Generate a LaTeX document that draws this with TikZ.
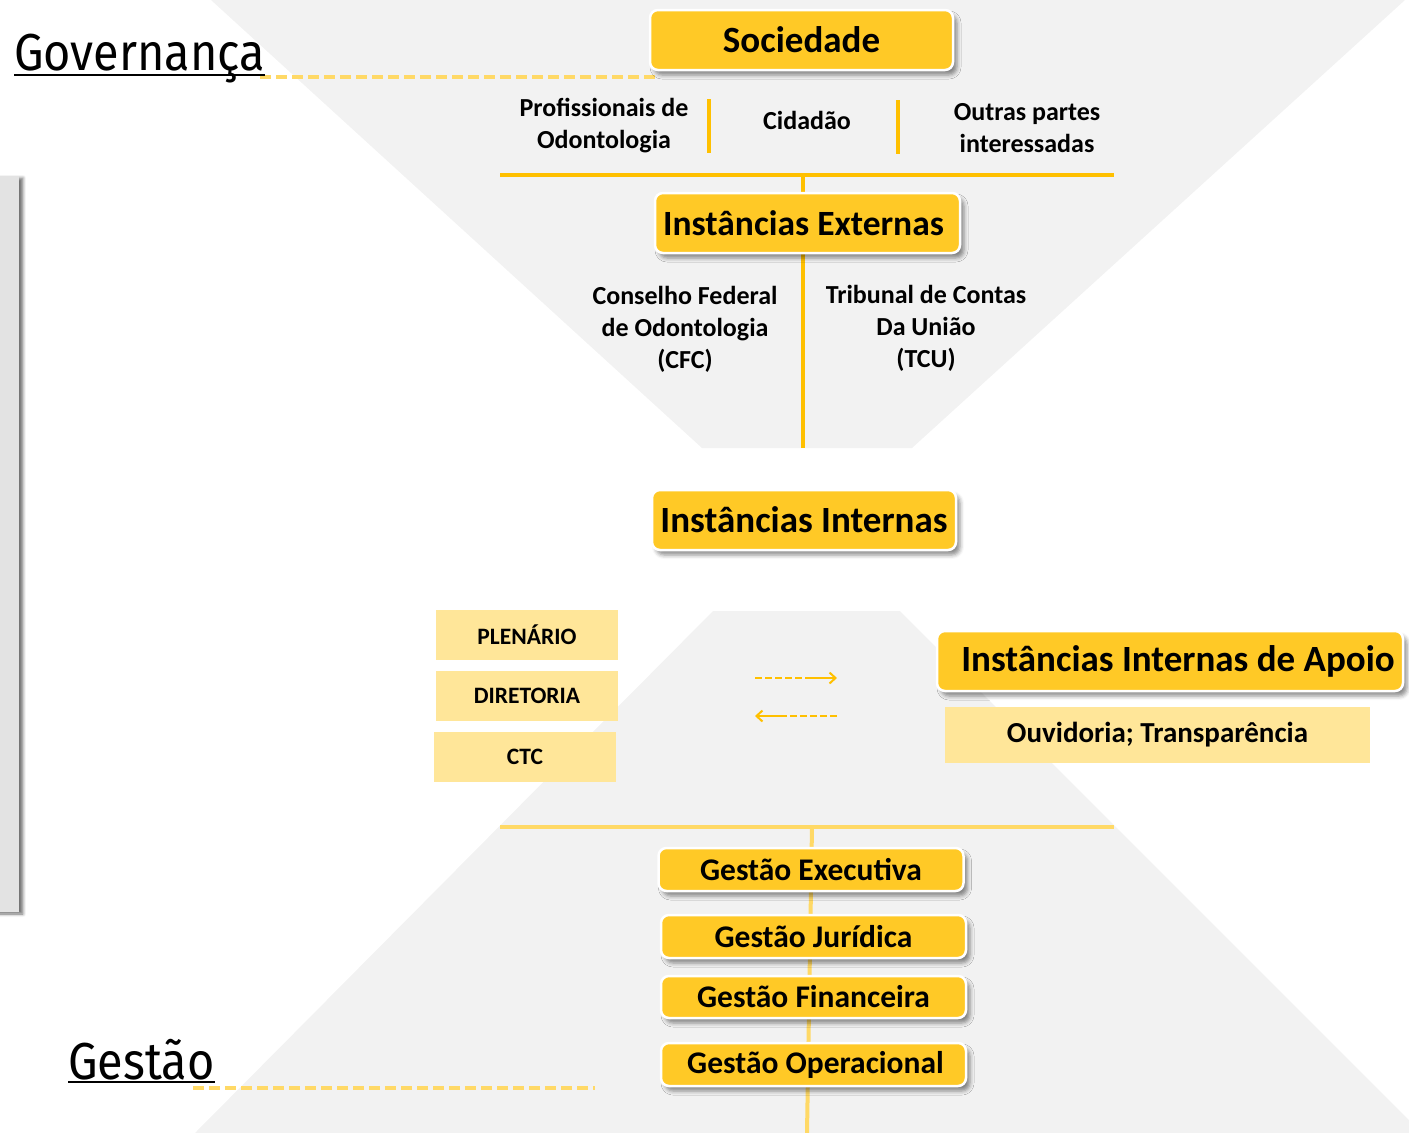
\documentclass[tikz,border=0pt]{standalone}
\usepackage{fontspec}
\setmainfont{Carlito}
\newfontfamily\dinfont[FakeStretch=0.9]{Fira Sans}
\usetikzlibrary{shadows.blur,arrows.meta}
\definecolor{bggray}{HTML}{F2F2F2}
\definecolor{boxgold}{HTML}{FFC926}
\definecolor{linegold}{HTML}{FFC000}
\definecolor{lightgold}{HTML}{FFD966}
\definecolor{paleyellow}{HTML}{FFE699}
\definecolor{bargray}{HTML}{E3E3E3}
\pgfdeclarelayer{bg}
\pgfdeclarelayer{lines}
\pgfsetlayers{bg,lines,main}
\begin{document}
\begin{tikzpicture}[x=1pt,y=-1pt,
  goldbox/.style={draw=white, line width=2.5pt, fill=boxgold, rounded corners=8pt,
    font=\bfseries\fontsize{37}{44}\selectfont, inner sep=0pt, minimum height=60pt,
    blur shadow={shadow xshift=4pt, shadow yshift=-5pt, shadow blur radius=4pt, shadow opacity=45}},
  gestbox/.style={goldbox, font=\bfseries\fontsize{31.5}{37}\selectfont, minimum height=43pt, minimum width=305pt},
  palebox/.style={fill=paleyellow, inner sep=0pt, minimum width=182pt, minimum height=50pt,
    font=\bfseries\fontsize{23.5}{28}\selectfont},
  plaintext/.style={align=center, inner sep=0pt, font=\bfseries\fontsize{26}{32}\selectfont},
  titletext/.style={inner sep=0pt, anchor=base west, font=\dinfont\fontsize{52}{60}\selectfont},
  goldline/.style={draw=linegold, line width=4pt},
  paleline/.style={draw=lightgold, line width=4pt},
  dashline/.style={draw=lightgold, line width=4pt, dash pattern=on 11pt off 5pt},
  arrowline/.style={draw=linegold, line width=2.5pt},
  arrowtip/.style={-{Straight Barb[length=6pt,width=11pt,line width=2pt]}}
]
\useasboundingbox (0,0) rectangle (1409,1133);

% ---------- text nodes and boxes ----------
\node[titletext] (gov) at (14,70) {Governança};
\node[titletext] (gest) at (68,1079) {Gestão};

\node[goldbox, minimum width=303pt] (soc) at (801.5,40) {Sociedade};
\node[plaintext] (prof) at (604,126) {Profissionais de\\Odontologia};
\node[plaintext] (cid) at (807,120) {Cidadão};
\node[plaintext] (outras) at (1027,128) {Outras partes\\interessadas};

\node[goldbox, minimum width=305pt, font=\bfseries\fontsize{35.5}{44}\selectfont] (ext) at (807.5,223) {Instâncias Externas\hspace*{8pt}};
\node[plaintext] (cfc) at (685,329) {Conselho Federal\\de Odontologia\\(CFC)};
\node[plaintext] (tcu) at (926,328) {Tribunal de Contas\\Da União\\(TCU)};

\node[goldbox, minimum width=304pt] (int) at (804,520) {Instâncias Internas};

\node[palebox] (plen) at (527,635) {PLENÁRIO};
\node[palebox] (dir) at (527,696) {DIRETORIA};
\node[palebox] (ctc) at (525,757) {CTC};

\node[goldbox, minimum width=466pt] (apoio) at (1170,661) {\hspace*{16pt}Instâncias Internas de Apoio};
\node[palebox, minimum width=425pt, minimum height=56pt, font=\bfseries\fontsize{29}{34}\selectfont] (ouv) at (1157.5,735) {Ouvidoria; Transparência};

\node[gestbox] (gexec) at (811,869.5) {Gestão Executiva};
\node[gestbox] (gjur) at (813.5,936.5) {Gestão Jurídica};
\node[gestbox, minimum height=42pt] (gfin) at (813.5,997) {Gestão Financeira};
\node[gestbox] (gop) at (813.5,1064.5) {\hspace*{4pt}Gestão Operacional};

% ---------- coordinates ----------
\coordinate (govdashL) at (260,77);
\coordinate (govdashR) at (655,77);
\coordinate (gestdashL) at (193,1088);
\coordinate (gestdashR) at (595,1088);
\coordinate (hlL) at (500,175);
\coordinate (hlR) at (1114,175);
\coordinate (hlC) at (803,175);
\coordinate (extbot) at (803,448);
\coordinate (s1t) at (709,99);
\coordinate (s1b) at (709,153);
\coordinate (s2t) at (898,100);
\coordinate (s2b) at (898,154);
\coordinate (mlL) at (500,827);
\coordinate (mlR) at (1114,827);
\coordinate (mlC) at (812,827);
\coordinate (gbot) at (807,1133);
\coordinate (a1s) at (755,678);
\coordinate (a1m) at (808,678);
\coordinate (a1e) at (837,678);
\coordinate (a2s) at (837,716);
\coordinate (a2m) at (787,716);
\coordinate (a2e) at (755,716);

% ---------- background ----------
\begin{pgfonlayer}{bg}
  \fill[bggray] (211,0) -- (1405,0) -- (912,448) -- (702,448) -- cycle;
  \fill[bggray] (713,611) -- (900,611) -- (1422,1133) -- (195,1133) -- cycle;
  \fill[bargray, blur shadow={shadow xshift=4pt, shadow yshift=-2pt, shadow blur radius=3pt, shadow opacity=55}]
    (-10,176) rectangle (19,912);
\end{pgfonlayer}

% ---------- lines ----------
\begin{pgfonlayer}{lines}
  \draw[dashline] (govdashL) -- (govdashR);
  \draw[dashline] (gestdashL) -- (gestdashR);
  \draw[line width=1.6pt] ([yshift=-5pt]gov.base west) -- ([yshift=-5pt]gov.base east);
  \draw[line width=1.6pt] ([yshift=-3pt]gest.base west) -- ([yshift=-3pt]gest.base east);

  \draw[goldline] (s1t) -- (s1b);
  \draw[goldline] (s2t) -- (s2b);
  \draw[goldline] (hlL) -- (hlR);
  \draw[goldline] (hlC) -- (hlC |- ext.north);
  \draw[goldline] (hlC |- ext.south) -- (extbot);

  \draw[paleline] (mlL) -- (mlR);
  \draw[paleline] (mlC) -- (gbot);

  \draw[arrowline, dash pattern=on 7pt off 3pt] (a1s) -- (a1m);
  \draw[arrowline, arrowtip] (a1m) -- (a1e);
  \draw[arrowline, dash pattern=on 7pt off 3pt] (a2s) -- (a2m);
  \draw[arrowline, arrowtip] (a2m) -- (a2e);
\end{pgfonlayer}
\end{tikzpicture}
\end{document}
